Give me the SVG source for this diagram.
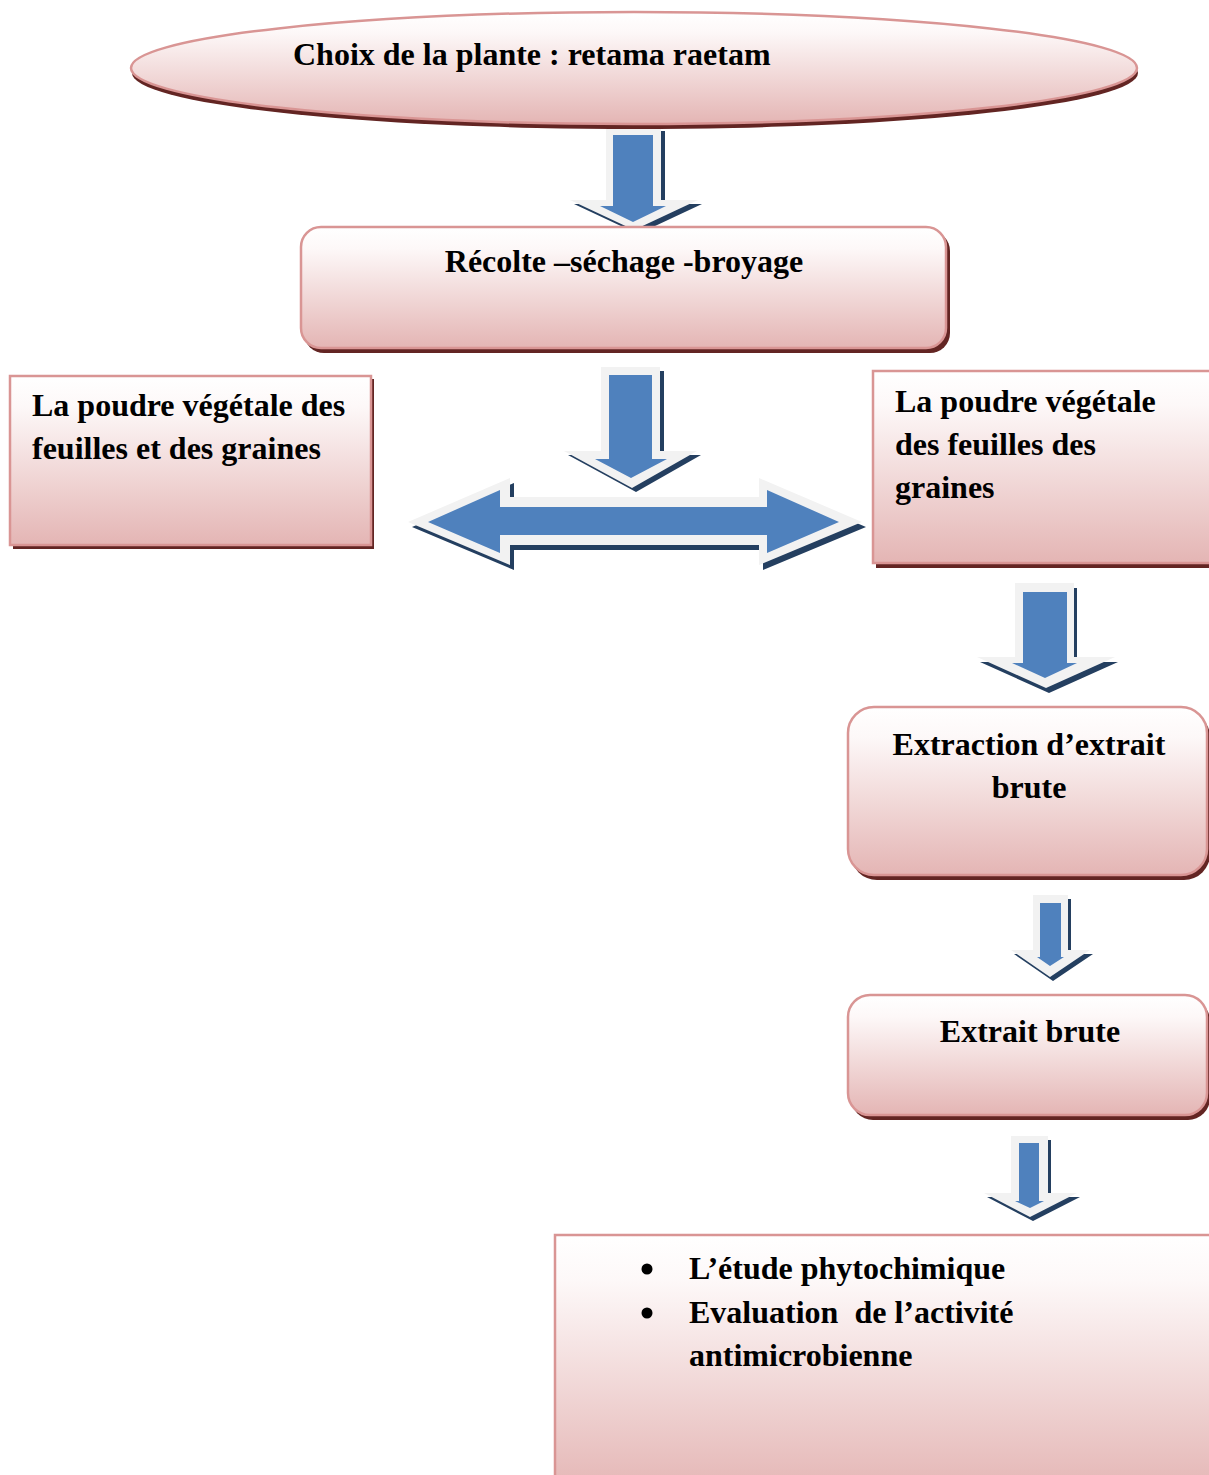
<svg xmlns="http://www.w3.org/2000/svg" width="1209" height="1475" viewBox="0 0 1209 1475">
<defs>
<linearGradient id="pink" x1="0" y1="0" x2="0" y2="1">
<stop offset="0" stop-color="#ffffff"/>
<stop offset="0.18" stop-color="#fdf8f8"/>
<stop offset="1" stop-color="#e4b5b4"/>
</linearGradient>
<style>
.box{fill:url(#pink);stroke:#d99594;stroke-width:2.5}
.sh{fill:#632523}
.t{font-family:"Liberation Serif","Times New Roman",serif;font-weight:bold;font-size:32px;fill:#000}
.c{text-anchor:middle}
.ao{fill:#f2f2f2}
.ab{fill:#4f81bd}
.as{fill:#243f60}
</style>
</defs>
<rect width="1209" height="1475" fill="#ffffff"/>

<g id="connectors">
  <g id="arrow1">
    <polygon class="as" transform="translate(4,4)" points="606,127 661,127 661,200 698,200 634,230 570,200 606,200"/>
    <polygon class="ao" points="606,127 661,127 661,200 698,200 634,230 570,200 606,200"/>
    <polygon class="ab" points="613,135 653,135 653,206 666,206 633,222 600,206 613,206"/>
  </g>
  <g id="arrow2">
    <polygon class="as" transform="translate(4,4)" points="601,367 660,367 660,451 697,451 632,488 564,451 601,451"/>
    <polygon class="ao" points="601,367 660,367 660,451 697,451 632,488 564,451 601,451"/>
    <polygon class="ab" points="609,375 652,375 652,459 667,459 631,478 595,459 609,459"/>
  </g>
  <g id="arrow-double">
    <polygon class="as" transform="translate(4,5)" points="408,522 510,478 510,497 759,497 759,478 862,522 759,565 759,545 510,545 510,565"/>
    <polygon class="ao" points="408,522 510,478 510,497 759,497 759,478 862,522 759,565 759,545 510,545 510,565"/>
    <polygon class="ab" points="428,522 500,490 500,507 767,507 767,490 839,522 767,553 767,535 500,535 500,553"/>
  </g>
  <g id="arrow3">
    <polygon class="as" transform="translate(3,5)" points="1015,583 1074,583 1074,657 1115,657 1046,688 977,657 1015,657"/>
    <polygon class="ao" points="1015,583 1074,583 1074,657 1115,657 1046,688 977,657 1015,657"/>
    <polygon class="ab" points="1023,592 1067,592 1067,663 1077,663 1045,678 1012,663 1023,663"/>
  </g>
  <g id="arrow4">
    <polygon class="as" transform="translate(3,4)" points="1033,895 1068,895 1068,950 1090,950 1050,977 1011,950 1033,950"/>
    <polygon class="ao" points="1033,895 1068,895 1068,950 1090,950 1050,977 1011,950 1033,950"/>
    <polygon class="ab" points="1040,903 1061,903 1061,957 1064,957 1050,966 1037,957 1040,957"/>
  </g>
  <g id="arrow5">
    <polygon class="as" transform="translate(3,4)" points="1011,1136 1048,1136 1048,1193 1077,1193 1030,1217 984,1193 1011,1193"/>
    <polygon class="ao" points="1011,1136 1048,1136 1048,1193 1077,1193 1030,1217 984,1193 1011,1193"/>
    <polygon class="ab" points="1019,1143 1039,1143 1039,1201 1044,1201 1030,1208 1015,1201 1019,1201"/>
  </g>
</g>

<g id="node-choix">
  <ellipse class="sh" cx="635" cy="73" rx="503" ry="56"/>
  <ellipse class="box" cx="634" cy="68" rx="503" ry="56"/>
  <text class="t" x="293" y="65">Choix de la plante : retama raetam</text>
</g>

<g id="node-recolte">
  <rect class="sh" x="304" y="231" width="646" height="122" rx="20"/>
  <rect class="box" x="301" y="227" width="645" height="121" rx="20"/>
  <text class="t c" x="624" y="272">Récolte –séchage -broyage</text>
</g>

<g id="node-poudre-gauche">
  <rect class="sh" x="13" y="379" width="361" height="170"/>
  <rect class="box" x="10" y="376" width="361" height="169"/>
  <text class="t" x="32" y="416">La poudre végétale des</text>
  <text class="t" x="32" y="459">feuilles et des graines</text>
</g>

<g id="node-poudre-droite">
  <rect class="sh" x="876" y="375" width="360" height="193"/>
  <rect class="box" x="873" y="371" width="360" height="192"/>
  <text class="t" x="895" y="412">La poudre végétale</text>
  <text class="t" x="895" y="455">des feuilles des</text>
  <text class="t" x="895" y="498">graines</text>
</g>

<g id="node-extraction">
  <rect class="sh" x="851" y="711" width="359" height="169" rx="26"/>
  <rect class="box" x="848" y="707" width="359" height="168" rx="26"/>
  <text class="t c" x="1029" y="755">Extraction d’extrait</text>
  <text class="t c" x="1029" y="798">brute</text>
</g>

<g id="node-extrait">
  <rect class="sh" x="851" y="999" width="359" height="121" rx="22"/>
  <rect class="box" x="848" y="995" width="359" height="120" rx="22"/>
  <text class="t c" x="1030" y="1042">Extrait brute</text>
</g>

<g id="node-etudes">
  <rect class="box" x="555" y="1235" width="680" height="260"/>
  <circle cx="647" cy="1269" r="5.5" fill="#000"/>
  <circle cx="647" cy="1313" r="5.5" fill="#000"/>
  <text class="t" x="689" y="1279">L’étude phytochimique</text>
  <text class="t" x="689" y="1323" xml:space="preserve">Evaluation  de l’activité</text>
  <text class="t" x="689" y="1366">antimicrobienne</text>
</g>
</svg>
